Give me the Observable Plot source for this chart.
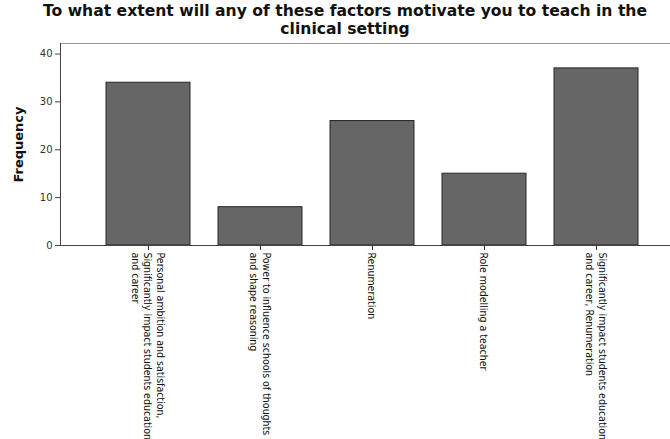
<!DOCTYPE html>
<html>
<head>
<meta charset="utf-8">
<script src="https://cdn.jsdelivr.net/npm/d3@7"></script>
<script src="https://cdn.jsdelivr.net/npm/@observablehq/plot@0.6"></script>
<style>
  html, body { margin: 0; padding: 0; background: #fff; overflow: hidden; width: 670px; height: 439px; }
  #title { width: 690px; height: 38px; text-align: center; font-family: "DejaVu Sans", sans-serif; font-weight: bold; font-size: 15.6px; line-height: 18.4px; padding-top: 2px; box-sizing: border-box; color: #111; white-space: nowrap; }
  #chart { width: 690px; }
  #chart svg { display: block; max-width: none !important; }
</style>
</head>
<body>
<div id="title">To what extent will any of these factors motivate you to teach in the<br>clinical setting</div>
<div id="chart"></div>
<script>
const categories = [
  "Personal ambition and satisfaction, Significantly impact students education and career",
  "Power to influence schools of thoughts and shape reasoning",
  "Renumeration",
  "Role modelling a teacher",
  "Significantly impact students education and career, Renumeration"
];
const tickLabels = [
  "Personal ambition and satisfaction,\nSignificantly impact students education\nand career",
  "Power to influence schools of thoughts\nand shape reasoning",
  "Renumeration",
  "Role modelling a teacher",
  "Significantly impact students education\nand career, Renumeration"
];
const frequencies = [34, 8, 26, 15, 37];
const yTicks = [0, 10, 20, 30, 40];
const yMax = 42.2;
const yLabel = "Frequency";

const data = categories.map((c, i) => ({category: c, frequency: frequencies[i]}));
const labelOf = new Map(categories.map((c, i) => [c, tickLabels[i]]));

const chart = Plot.plot({
  width: 690,
  height: 401,
  marginLeft: 60,
  marginRight: 6,
  marginTop: 5,
  marginBottom: 194,
  style: {background: "#fff"},
  x: {domain: categories, paddingInner: 0.25, paddingOuter: 0.41, axis: null},
  y: {domain: [0, yMax], axis: null},
  marks: [
    Plot.frame({stroke: "#999"}),
    Plot.barY(data, {x: "category", y: "frequency", fill: "#666666", stroke: "#262626", strokeWidth: 1}),
    Plot.ruleY([0], {stroke: "#444"}),
    Plot.frame({anchor: "left", stroke: "#444"}),
    Plot.axisY({ticks: yTicks, tickSize: 5, tickPadding: 3, fontSize: 10, fontFamily: "DejaVu Sans", color: "#333", stroke: "#444", label: null}),
    Plot.axisX({tickSize: 5, tickPadding: 2, tickRotate: 90, textAnchor: "start", lineAnchor: "middle", lineHeight: 1.2,
      tickFormat: d => labelOf.get(d), fontSize: 10.5, fontFamily: "DejaVu Sans Condensed, sans-serif", fill: "#111", stroke: "#333", label: null}),
    Plot.text([yLabel], {frameAnchor: "left", textAnchor: "middle", rotate: -90, dx: -42, fontSize: 13, fontWeight: "bold", fontFamily: "DejaVu Sans", fill: "#111"})
  ]
});
document.getElementById("chart").appendChild(chart);
</script>
</body>
</html>
